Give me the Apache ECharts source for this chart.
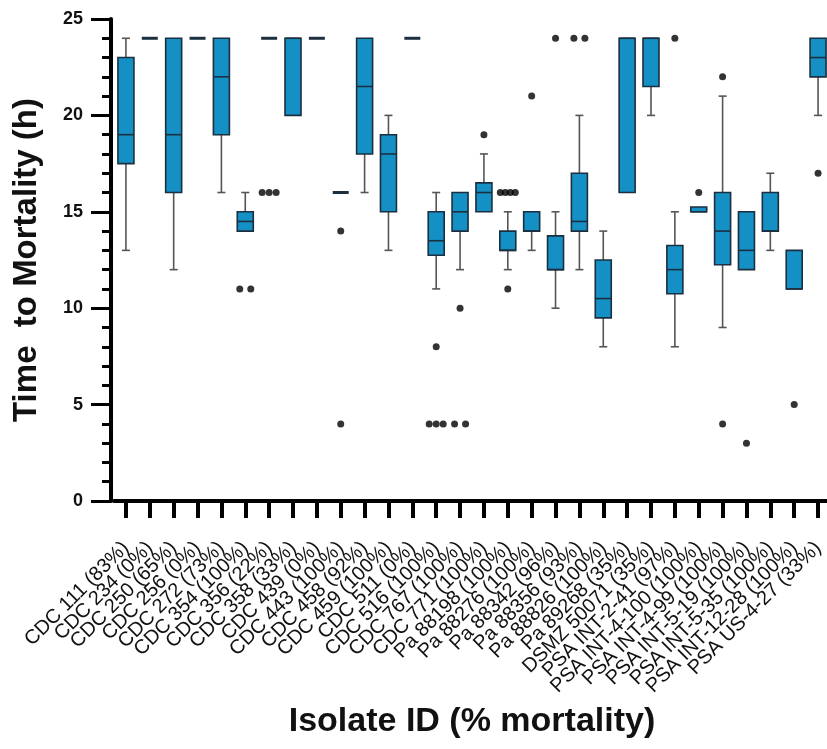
<!DOCTYPE html>
<html>
<head>
<meta charset="utf-8">
<script src="https://cdn.jsdelivr.net/npm/echarts@6/dist/echarts.min.js"></script>
<style>
html,body{margin:0;padding:0;background:#fff;}
#chart{width:827px;height:749px;}
</style>
</head>
<body>
<div id="chart"></div>
<script>
var categories = [
  'CDC 111 (83%)','CDC 234 (0%)','CDC 250 (65%)','CDC 256 (0%)','CDC 272 (73%)',
  'CDC 354 (100%)','CDC 356 (22%)','CDC 358 (33%)','CDC 439 (0%)','CDC 443 (100%)',
  'CDC 458 (92%)','CDC 459 (100%)','CDC 511 (0%)','CDC 516 (100%)','CDC 767 (100%)',
  'CDC 771 (100%)','Pa 88198 (100%)','Pa 88276 (100%)','Pa 88342 (96%)','Pa 88356 (93%)',
  'Pa 88826 (100%)','Pa 89268 (35%)','DSMZ 50071 (35%)','PSA INT-2-41 (97%)','PSA INT-4-100 (100%)',
  'PSA INT-4-99 (100%)','PSA INT-5-19 (100%)','PSA INT-5-35 (100%)','PSA INT-12-28 (100%)','PSA US-4-27 (33%)'
];
// [min, Q1, median, Q3, max]
var boxMin    = [13, 24, 12, 24, 16, 14, 24, 20, 24, 16, 16, 13, 24, 11,   12, 15, 12, 13, 10, 12, 8,   16, 20,   8,     15,   9,     12, 13, 11, 20];
var boxQ1     = [17.5,24, 16, 24, 19, 14, 24, 20, 24, 16, 18, 15, 24, 12.75,14, 15, 13, 14, 12, 14, 9.5, 16, 21.5, 10.75, 15,   12.25, 12, 14, 11, 22];
var boxMedian = [19, 24, 19, 24, 22, 14.5,24, 24, 24, 16, 21.5,18,24, 13.5, 15, 16, 13, 14, 12, 14.5,10.5,24, 24,   12,    15,   14,    13, 14, 11, 23];
var boxQ3     = [23, 24, 24, 24, 24, 15, 24, 24, 24, 16, 24, 19, 24, 15,   16, 16.5,14, 15, 13.75,17,12.5,24, 24,  13.25, 15.25,16,    15, 16, 13, 24];
var boxMax    = [24, 24, 24, 24, 24, 16, 24, 24, 24, 16, 24, 20, 24, 16,   16, 18, 15, 15, 15, 20, 14,  24, 24,   15,    15.25,21,    15, 17, 13, 24];
// outliers: category index and value
var outlierCat = [5, 5, 6, 6, 6, 9, 9, 13, 13, 13, 13, 14, 14, 14, 15, 16, 16, 16, 16, 16, 17, 18, 19, 19, 23, 24, 25, 25, 26, 28, 29];
var outlierVal = [11, 11, 16, 16, 16, 14, 4, 8, 4, 4, 4, 10, 4, 4, 19, 16, 16, 16, 16, 11, 21, 24, 24, 24, 24, 16, 22, 4, 3, 5, 17];

var boxData = categories.map(function (c, i) {
  return [i, boxMin[i], boxQ1[i], boxMedian[i], boxQ3[i], boxMax[i]];
});

// side-by-side placement of tied outliers (style only)
var groups = {};
outlierCat.forEach(function (c, i) {
  var k = c + '_' + outlierVal[i];
  (groups[k] = groups[k] || []).push(i);
});
var spacingFor = {1: 0, 2: 11, 3: 7, 4: 5};
var outlierData = outlierCat.map(function (c, i) {
  var k = c + '_' + outlierVal[i];
  var g = groups[k];
  var n = g.length, pos = g.indexOf(i);
  var sp = spacingFor[n] || 5;
  return { value: [c, outlierVal[i]], symbolOffset: [(pos - (n - 1) / 2) * sp, 0] };
});

var FILL = '#1590c5', EDGE = '#1b2f40', WHISK = '#555555';

function renderBox(params, api) {
  var x = api.value(0);
  var mn = api.coord([x, api.value(1)]);
  var q1 = api.coord([x, api.value(2)]);
  var md = api.coord([x, api.value(3)]);
  var q3 = api.coord([x, api.value(4)]);
  var mx = api.coord([x, api.value(5)]);
  var cx = mn[0];
  var bw = api.size([1, 0])[0] * 0.67;
  var cw = 8;
  var children = [];
  if (api.value(5) > api.value(4)) {
    children.push({type: 'line', shape: {x1: cx, y1: mx[1], x2: cx, y2: q3[1]}, style: {stroke: WHISK, lineWidth: 1.6}});
    children.push({type: 'line', shape: {x1: cx - cw / 2, y1: mx[1], x2: cx + cw / 2, y2: mx[1]}, style: {stroke: WHISK, lineWidth: 1.6}});
  }
  if (api.value(2) > api.value(1)) {
    children.push({type: 'line', shape: {x1: cx, y1: q1[1], x2: cx, y2: mn[1]}, style: {stroke: WHISK, lineWidth: 1.6}});
    children.push({type: 'line', shape: {x1: cx - cw / 2, y1: mn[1], x2: cx + cw / 2, y2: mn[1]}, style: {stroke: WHISK, lineWidth: 1.6}});
  }
  var h = q1[1] - q3[1];
  if (h > 0.5) {
    children.push({type: 'rect', shape: {x: cx - bw / 2, y: q3[1], width: bw, height: h}, style: {fill: FILL, stroke: EDGE, lineWidth: 1.6}});
    children.push({type: 'line', shape: {x1: cx - bw / 2, y1: md[1], x2: cx + bw / 2, y2: md[1]}, style: {stroke: EDGE, lineWidth: 1.6}});
  } else {
    children.push({type: 'line', shape: {x1: cx - bw / 2, y1: md[1], x2: cx + bw / 2, y2: md[1]}, style: {stroke: EDGE, lineWidth: 3}});
  }
  return {type: 'group', children: children};
}

var chart = echarts.init(document.getElementById('chart'), null, {renderer: 'canvas'});
var FONT = 'Liberation Sans, Arial, sans-serif';
chart.setOption({
  animation: false,
  backgroundColor: '#fff',
  grid: {left: 114, top: 19, width: 716, bottom: 248, containLabel: false, outerBoundsMode: 'none'},
  xAxis: {
    type: 'category',
    data: categories,
    boundaryGap: true,
    name: 'Isolate ID (% mortality)',
    nameLocation: 'middle',
    nameGap: 204,
    nameTextStyle: {fontFamily: FONT, fontSize: 34, fontWeight: 'bold', color: '#111'},
    axisLine: {lineStyle: {color: '#000', width: 4}},
    axisTick: {show: true, alignWithLabel: true, interval: 0, length: 17, lineStyle: {color: '#000', width: 4}},
    axisLabel: {interval: 0, rotate: 45, margin: 44, fontFamily: FONT, fontSize: 20, color: '#111'},
    splitLine: {show: false}
  },
  yAxis: {
    type: 'value',
    min: 0, max: 25, interval: 5,
    offset: 3,
    name: 'Time  to Mortality (h)',
    nameLocation: 'middle',
    nameGap: 68,
    nameRotate: 90,
    nameTextStyle: {fontFamily: FONT, fontSize: 33, fontWeight: 'bold', color: '#111'},
    axisLine: {show: true, lineStyle: {color: '#000', width: 4}},
    axisTick: {show: true, length: 20, lineStyle: {color: '#000', width: 3}},
    minorTick: {show: true, splitNumber: 5, length: 9, lineStyle: {color: '#000', width: 3}},
    axisLabel: {margin: 28, fontFamily: FONT, fontSize: 18, fontWeight: 'bold', color: '#111'},
    splitLine: {show: false}
  },
  series: [
    {
      type: 'custom',
      renderItem: renderBox,
      data: boxData,
      encode: {x: 0, y: [1, 2, 3, 4, 5]},
      clip: false,
      z: 2
    },
    {
      type: 'scatter',
      data: outlierData,
      symbol: 'circle',
      symbolSize: 7,
      itemStyle: {color: '#000'},
      z: 3
    }
  ]
});
</script>
</body>
</html>
